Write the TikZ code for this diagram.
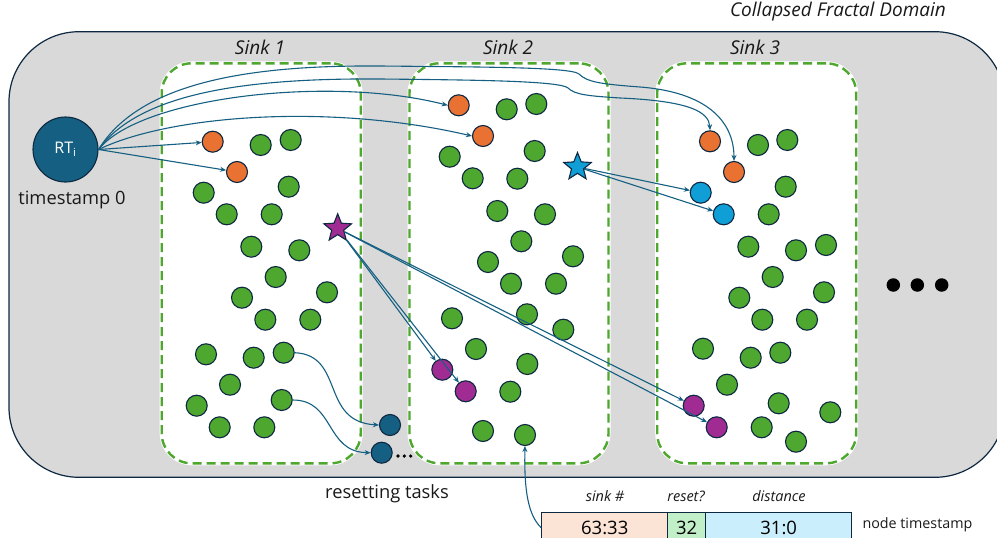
\documentclass[tikz,border=0pt]{standalone}
\usepackage{fontspec}
\setmainfont{Open Sans}
\usetikzlibrary{shapes.geometric,arrows.meta}

\definecolor{dk}{HTML}{0E2841}
\definecolor{teal}{HTML}{156082}
\definecolor{grn}{HTML}{4EA72E}
\definecolor{org}{HTML}{E97132}
\definecolor{sky}{HTML}{0F9ED5}
\definecolor{pur}{HTML}{A02B93}
\definecolor{domain}{HTML}{D9D9D9}
\definecolor{peach}{HTML}{FBE3D6}
\definecolor{mint}{HTML}{C1F0C8}
\definecolor{ice}{HTML}{CAEEFB}

\tikzset{
  dot/.style={circle, draw=dk, line width=1.1pt, minimum size=21pt, inner sep=0pt},
  gdot/.style={dot, fill=grn},
  odot/.style={dot, fill=org},
  bdot/.style={dot, fill=sky},
  pdot/.style={dot, fill=pur},
  rdot/.style={dot, fill=teal},
  starnode/.style={star, star points=5, star point ratio=2.3, draw=dk, line width=1.1pt,
    minimum size=29pt, inner sep=0pt},
  link/.style={draw=teal, line width=1.1pt, -{Stealth[length=6pt,width=5pt]}},
  sinkbox/.style={rectangle, rounded corners=30pt, fill=white, draw=grn, line width=2.4pt,
    dash pattern=on 9pt off 5pt, minimum width=199pt, minimum height=400pt,
    preaction={draw=white, line width=4pt, solid}},
  title/.style={font=\fontsize{19}{22}\selectfont\itshape, text=black!90},
  plain/.style={font=\fontsize{18.3}{21}\selectfont, text=black!90},
  head/.style={font=\fontsize{14.5}{17}\selectfont\itshape, text=black!90},
  cell/.style={rectangle, draw=dk, line width=1.1pt, minimum height=30pt, inner sep=0pt,
    font=\fontsize{18.5}{21}\selectfont},
}

\begin{document}
\begin{tikzpicture}[x=1pt,y=-1pt]
\useasboundingbox (0,0) rectangle (997,538);

% domain background
\node[rectangle, rounded corners=70pt, fill=domain, draw=dk, line width=1.2pt,
  minimum width=996pt, minimum height=445.6pt, inner sep=0pt] (domain) at (507,254.5) {};
\node[title, anchor=center] (dtitle) at (838,12) {Collapsed Fractal Domain};

% sinks
\node[sinkbox] (sink1) at (261.2,263.3) {};
\node[sinkbox] (sink2) at (509,263.3) {};
\node[sinkbox] (sink3) at (756.7,263.3) {};
\node[title] (l1) at (260,47) {Sink 1};
\node[title] (l2) at (508,47) {Sink 2};
\node[title] (l3) at (755,47) {Sink 3};

% root task
\node[circle, fill=teal, draw=dk, line width=1.1pt, minimum size=65pt, inner sep=0pt,
  text=white, font=\fontsize{16}{19}\selectfont] (rt) at (65.5,149.5) {RT\textsubscript{i}};
\node[plain] (ts0) at (72,200) {timestamp 0};

% sink 1 nodes
\node[odot] (s1o1) at (212.7,141.7) {};
\node[odot] (s1o2) at (237,172) {};
\foreach \x/\y [count=\i] in {260.7/145, 290.7/140, 203.7/192.7, 288.7/186.7, 226.7/214.3,
  271.7/214.3, 251.3/246.7, 299.3/250.3, 275.7/277, 242/297.7, 327/292.3, 265.3/319.7,
  310.3/319.7, 206/354.3, 253.7/357.7, 283.7/352.7, 230/384.7, 196.7/405.7, 281.7/400,
  219.7/427.3, 264.3/427.3}
  \node[gdot] (s1g\i) at (\x,\y) {};
\node[starnode, fill=pur] (ps) at (337.7,228.3) {};

% sink 2 nodes
\node[odot] (s2o1) at (458.7,105.3) {};
\node[odot] (s2o2) at (483,136) {};
\node[pdot] (s2p1) at (442.3,369.7) {};
\node[pdot] (s2p2) at (465.7,391.3) {};
\foreach \x/\y [count=\i] in {506.7/109.3, 536.3/104, 449.7/156.7, 534.7/151, 472.7/178.3,
  517.3/178.7, 497.3/211, 545/214.3, 521.3/241.3, 488/262, 573/256.3, 511/283.7,
  556/283.7, 452/318.3, 527/314.3, 563.3/329.7, 476/349, 527.3/364, 510.3/391.7,
  483/431, 525/435}
  \node[gdot] (s2g\i) at (\x,\y) {};
\node[starnode, fill=sky] (bs) at (577.5,167) {};

% sink 3 nodes
\node[odot] (s3o1) at (710,141.3) {};
\node[odot] (s3o2) at (734,172) {};
\node[bdot] (s3b1) at (700.7,192.7) {};
\node[bdot] (s3b2) at (723.7,214.3) {};
\node[pdot] (s3p1) at (693.7,405.7) {};
\node[pdot] (s3p2) at (716.7,427.3) {};
\foreach \x/\y [count=\i] in {758/145, 787.3/140, 785.7/186.7, 768.7/214.3, 748.3/246.7,
  796/250.3, 826/245, 772.7/277, 739.3/297.7, 824/292.3, 762.3/319.7, 807/319.7,
  703/348.7, 750.7/357.7, 780.3/352.7, 727/384.7, 778.7/403.3, 830.3/412.3,
  761.7/427.3, 796/441.7}
  \node[gdot] (s3g\i) at (\x,\y) {};

% more sinks
\foreach \x [count=\i] in {893.3,917.3,941.7}
  \node[circle, fill=black, minimum size=13.5pt, inner sep=0pt] (more\i) at (\x,285) {};

% resetting tasks
\node[rdot] (rs1) at (390,425) {};
\node[rdot] (rs2) at (381.7,452.7) {};
\foreach \x [count=\i] in {398,404.3,410.7}
  \node[circle, fill=black, minimum size=3.6pt, inner sep=0pt] (rsmore\i) at (\x,456) {};
\node[plain] (rlabel) at (387,494) {resetting tasks};

% root task fan-out
\draw[link] (rt.east) -- (s1o1);
\draw[link] (rt.east) -- (s1o2);
\draw[link] (rt.east) .. controls (140,97) and (330,75) .. (s2o1.west);
\draw[link] (rt.east) .. controls (170,115) and (330,103) .. (s2o2.west);
\draw[link] (rt.east) .. controls (140,92) and (250,78) .. (380,79)
  .. controls (480,80) and (560,81) .. (568,88)
  .. controls (575,95) and (590,96) .. (620,98)
  .. controls (690,101) and (709,112) .. (s3o1.north);
\draw[link] (rt.east) .. controls (140,82) and (250,65) .. (380,66)
  .. controls (480,67) and (571,67) .. (579,74)
  .. controls (587,82) and (600,84) .. (640,87)
  .. controls (705,92) and (734,120) .. (s3o2.north);

% purple star spread
\draw[link] (ps) -- (s2p1);
\draw[link] (ps) -- (s2p2);
\draw[link] (ps) -- (s3p1);
\draw[link] (ps) -- (s3p2);

% blue star spread
\draw[link] (bs) -- (s3b1);
\draw[link] (bs) -- (s3b2);

% reset links
\draw[link] (s1g16.east) .. controls (345,355) and (320,422) .. (rs1.west);
\draw[link] (s1g19.east) .. controls (335,400) and (325,452) .. (rs2.west);

% node timestamp layout
\node[cell, fill=peach, minimum width=126pt] (c1) at (604.7,527.7) {63:33};
\node[cell, fill=mint, minimum width=38pt] (c2) at (686.7,527.7) {32};
\node[cell, fill=ice, minimum width=146pt] (c3) at (778.7,527.7) {31:0};
\node[head] (h1) at (605,496) {sink \#};
\node[head] (h2) at (686,496) {reset?};
\node[head] (h3) at (779,496) {distance};
\node[plain, font=\fontsize{14.3}{17}\selectfont, anchor=west] (ntl) at (859,525) {node timestamp};
\draw[link] (c1.west) .. controls (528,515) and (524,490) .. (s2g21.south);
\end{tikzpicture}
\end{document}
